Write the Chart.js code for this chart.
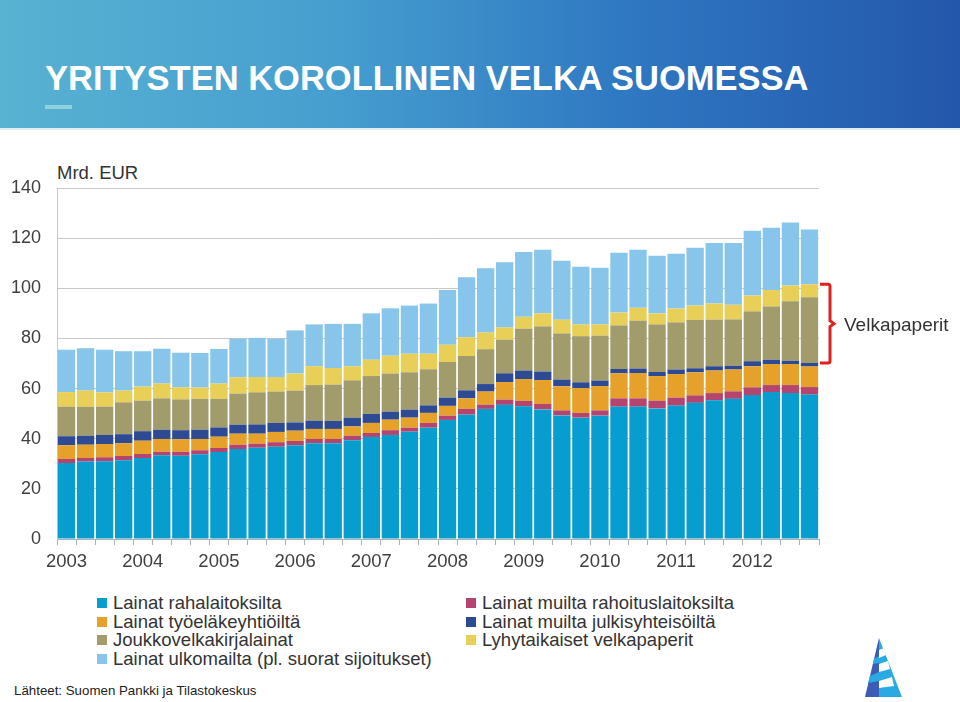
<!DOCTYPE html>
<html>
<head>
<meta charset="utf-8">
<script src="https://cdn.jsdelivr.net/npm/chart.js@4.4.1/dist/chart.umd.min.js"></script>
<style>
  body { margin:0; width:960px; height:702px; overflow:hidden; background:#fff; font-family:"Liberation Sans", Arial, sans-serif; position:relative; }
  #header { position:absolute; left:0; top:0; width:960px; height:128px;
    background:linear-gradient(90deg,#58b2d2 0%,#469ecf 35%,#2f78c2 65%,#2457ab 100%); border-bottom:2px solid #dfeef6; }
  #title { position:absolute; left:45px; top:59px; color:#fff; font-weight:bold; font-size:34.5px; white-space:nowrap; }
  #dash { position:absolute; left:45px; top:105px; width:27px; height:4px; background:#8ed2dd; }
  #unit { position:absolute; left:57px; top:162px; font-size:18.5px; color:#333; }
  #wrap { position:absolute; left:0; top:150px; }
  .leg { position:absolute; font-size:18.5px; color:#333; white-space:nowrap; }
  .leg span { display:inline-block; width:10px; height:10px; margin-right:6px; vertical-align:1px; }
  #source { position:absolute; left:14px; top:683px; font-size:13.3px; color:#222; }
  #logo { position:absolute; left:858px; top:636px; }
</style>
</head>
<body>
<div id="header"><div id="title">YRITYSTEN KOROLLINEN VELKA SUOMESSA</div><div id="dash"></div></div>
<div id="unit">Mrd. EUR</div>
<div id="wrap"><canvas id="myChart" width="960" height="430"></canvas></div>
<div id="legend"></div>
<div id="source">Lähteet: Suomen Pankki ja Tilastokeskus</div>
<svg id="logo" width="50" height="64" viewBox="0 0 50 64">
  <polygon points="21,2 7,61 21,61" fill="#3b5db6"/>
  <polygon points="21,2 21,61 44,61" fill="#29aae2"/>
  <polygon points="16,23 21,20 21,27 15,28" fill="#29aae2"/>
  <polygon points="12,40 21,36 21,45 10,47" fill="#29aae2"/>
  <polygon points="21,14 26,12 28,19 21,22" fill="#ffffff"/>
  <polygon points="21,28 30,25 32,33 21,36" fill="#ffffff"/>
  <polygon points="21,45 34,41 36,50 21,52" fill="#ffffff"/>
</svg>
<script>
// quarters 2003Q1 - 2012Q4
var years = ['2003','2004','2005','2006','2007','2008','2009','2010','2011','2012'];
var quarters = [];
years.forEach(y => { for (var q = 1; q <= 4; q++) quarters.push(y + 'Q' + q); });

// Mrd. EUR
var rahalaitokset = [30.3,30.9,31.0,31.4, 32.3,33.4,33.2,33.8, 34.7,35.9,36.4,36.8, 37.4,38.2,38.2,39.4,
  40.7,41.5,42.8,44.4, 47.5,49.6,51.9,53.5, 52.9,51.7,49.3,48.4, 49.2,52.8,52.8,52.1,
  53.2,54.3,55.3,55.9, 57.4,58.6,58.2,57.6];
var muutRahoitus = [1.6,1.4,1.6,1.7, 1.6,1.4,1.6,1.6, 1.6,1.7,1.6,1.8, 1.7,1.7,1.7,1.8,
  1.6,1.9,1.6,1.9, 1.7,2.3,1.7,2.1, 2.2,2.2,2.0,1.9, 2.1,3.3,3.3,3.1,
  3.2,3.0,2.9,3.0, 3.1,2.8,3.2,3.0];
var tyoelake = [5.5,5.3,5.3,5.1, 5.3,5.1,5.0,4.5, 4.5,4.4,4.0,4.1, 4.1,4.0,4.0,3.7,
  4.0,4.2,4.0,4.0, 3.9,4.2,5.2,7.0, 8.7,9.5,9.6,9.9, 9.7,10.0,10.1,9.8,
  9.4,9.2,9.0,8.7, 8.4,8.4,8.4,8.2];
var julkiset = [3.6,3.6,3.6,3.6, 3.8,3.7,3.6,3.7, 3.7,3.6,3.7,3.6, 3.3,3.3,3.2,3.5,
  3.6,3.2,3.2,3.0, 3.3,3.2,3.0,3.5, 3.4,3.4,2.7,2.3, 2.2,1.7,1.8,1.6,
  1.8,1.6,1.7,1.5, 2.0,1.7,1.3,1.4];
var joukkovelka = [11.8,11.5,11.3,12.7, 12.2,12.5,12.3,12.3, 11.4,12.4,12.8,12.5, 12.7,14.2,14.5,14.9,
  15.1,15.2,14.9,14.4, 14.2,13.7,13.9,13.4, 16.7,18.0,18.4,18.4, 17.9,17.4,19.1,19.0,
  18.8,19.3,18.6,18.5, 19.9,21.2,23.7,26.2];
var lyhytaikaiset = [5.8,6.5,5.7,4.7, 5.6,5.9,4.8,4.5, 6.1,6.5,6.1,5.8, 6.8,7.5,6.6,5.6,
  6.5,7.1,7.4,6.2, 6.9,7.5,6.7,4.9, 4.7,5.2,5.5,4.7, 4.5,5.1,5.1,4.4,
  5.5,5.7,6.4,5.8, 6.3,6.6,6.3,5.2];
var ulkomaat = [16.9,16.9,17.0,15.7, 14.1,13.9,13.8,13.8, 13.8,15.4,15.6,15.3, 17.2,16.7,17.6,16.9,
  18.5,18.9,19.2,20.0, 21.8,23.9,25.6,26.0, 25.9,25.4,23.5,23.0, 22.6,23.9,23.2,23.0,
  21.9,23.1,24.2,24.7, 25.8,24.8,25.1,21.8];

var names = ['Lainat rahalaitoksilta','Lainat muilta rahoituslaitoksilta','Lainat työeläkeyhtiöiltä',
  'Lainat muilta julkisyhteisöiltä','Joukkovelkakirjalainat','Lyhytaikaiset velkapaperit',
  'Lainat ulkomailta (pl. suorat sijoitukset)'];
var colors = ['#079dcf','#b3456f','#e5a12a','#2d4a93','#a29b6c','#e8cf57','#87c6ea'];
var series = [rahalaitokset, muutRahoitus, tyoelake, julkiset, joukkovelka, lyhytaikaiset, ulkomaat];

var datasets = series.map((d, i) => ({
  label: names[i], data: d, backgroundColor: colors[i],
  barPercentage: 0.91, categoryPercentage: 1, borderWidth: 0
}));

// legend, two columns
var legOrder = [[0,2,4,6],[1,3,5]];
var legX = [97, 466];
var legHtml = '';
legOrder.forEach((col, c) => col.forEach((k, r) => {
  legHtml += '<div class="leg" style="left:' + legX[c] + 'px;top:' + (592 + r * 18.5) + 'px">' +
    '<span style="background:' + colors[k] + '"></span>' + names[k] + '</div>';
}));
document.getElementById('legend').innerHTML = legHtml;

// red bracket for "Velkapaperit" next to the last bar
var bracket = {
  id: 'bracket',
  afterDatasetsDraw(chart) {
    var y = chart.scales.y, last = quarters.length - 1;
    var low = 0, high = 0;
    for (var i = 0; i < 4; i++) low += series[i][last];
    high = low + joukkovelka[last] + lyhytaikaiset[last];
    var y1 = y.getPixelForValue(high), y2 = y.getPixelForValue(low);
    var x0 = chart.chartArea.right + 1, x1 = x0 + 10, ym = (y1 + y2) / 2;
    var ctx = chart.ctx;
    ctx.save();
    ctx.strokeStyle = '#e2201c';
    ctx.lineWidth = 3;
    ctx.beginPath();
    ctx.moveTo(x0, y1); ctx.lineTo(x1 - 2, y1); ctx.quadraticCurveTo(x1, y1, x1, y1 + 2);
    ctx.lineTo(x1, ym - 3); ctx.lineTo(x1 + 4, ym); ctx.lineTo(x1, ym + 3);
    ctx.lineTo(x1, y2 - 2); ctx.quadraticCurveTo(x1, y2, x1 - 2, y2); ctx.lineTo(x0, y2);
    ctx.stroke();
    ctx.fillStyle = '#333';
    ctx.font = '19px "Liberation Sans", Arial, sans-serif';
    ctx.textBaseline = 'middle';
    ctx.fillText('Velkapaperit', x1 + 14, ym + 2);
    ctx.restore();
  }
};

var ctx = document.getElementById('myChart').getContext('2d');
var myChart = new Chart(ctx, {
  type: 'bar',
  data: { labels: quarters, datasets: datasets },
  options: {
    responsive: false,
    animation: false,
    layout: { padding: { top: 38, right: 141, left: 0, bottom: 0 } },
    plugins: { legend: { display: false }, tooltip: { enabled: false } },
    scales: {
      x: {
        stacked: true,
        grid: { drawOnChartArea: false, drawTicks: true, tickLength: 6, color: '#b0b0b0', offset: true },
        border: { color: '#b0b0b0' },
        ticks: {
          autoSkip: false, maxRotation: 0, padding: 6,
          color: '#404040', font: { size: 18.5, family: '"Liberation Sans", Arial, sans-serif' },
          callback: (v, i) => i % 4 == 0 ? quarters[i].slice(0, 4) : ''
        },
        afterFit: s => { s.height = 41; }
      },
      y: {
        stacked: true, min: 0, max: 140,
        grid: { color: '#c8c8c8', drawTicks: false },
        border: { color: '#c8c8c8' },
        ticks: { stepSize: 20, padding: 16, color: '#404040', font: { size: 18, family: '"Liberation Sans", Arial, sans-serif' } },
        afterFit: s => { s.width = 57; }
      }
    }
  },
  plugins: [bracket]
});
</script>
</body>
</html>
